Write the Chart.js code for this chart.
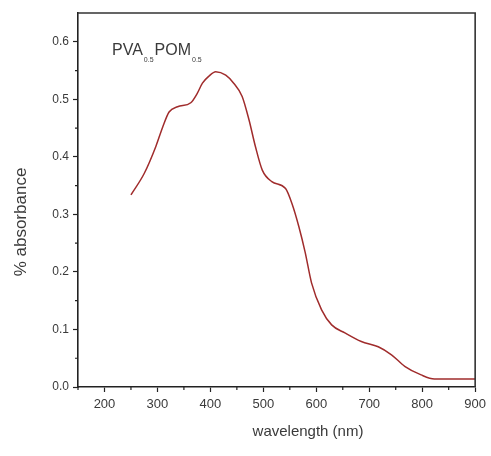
<!DOCTYPE html>
<html>
<head>
<meta charset="utf-8">
<script src="https://cdn.jsdelivr.net/npm/chart.js@4.4.1/dist/chart.umd.min.js"></script>
<style>
  html, body { margin: 0; padding: 0; background: #fff; }
  #wrap { width: 491px; height: 456px; position: relative; }
</style>
</head>
<body>
<div id="wrap"><canvas id="chart"></canvas></div>
<script>
// data
const wavelength = [250, 275, 297, 310, 322, 338, 363, 375, 385, 397, 410, 429, 444, 460, 473, 485, 498, 516, 542, 554, 567, 579, 591, 610, 629, 654, 685, 717, 742, 767, 798, 823, 860, 900];
const absorbance = [0.334, 0.371, 0.418, 0.452, 0.478, 0.487, 0.494, 0.510, 0.528, 0.540, 0.548, 0.542, 0.528, 0.505, 0.464, 0.418, 0.377, 0.357, 0.345, 0.319, 0.279, 0.234, 0.181, 0.134, 0.108, 0.094, 0.079, 0.070, 0.056, 0.036, 0.021, 0.014, 0.014, 0.014];

const xTicks = [200, 300, 400, 500, 600, 700, 800, 900];
const xMinorTicks = [150, 250, 350, 450, 550, 650, 750, 850];
const yTicks = [0.0, 0.1, 0.2, 0.3, 0.4, 0.5, 0.6];
const yMinorTicks = [0.05, 0.15, 0.25, 0.35, 0.45, 0.55];

const axisColor = '#222';
const textColor = '#3a3a3a';
const fontFamily = '"Liberation Sans", Arial, sans-serif';

// minor ticks, frame, titles and sample label
const extras = {
    id: 'extras',
    afterDraw(chart) {
        const ctx = chart.ctx;
        const area = chart.chartArea;
        const xs = chart.scales.x;
        const ys = chart.scales.y;
        ctx.save();
        ctx.strokeStyle = axisColor;
        ctx.lineWidth = 1.2;
        ctx.beginPath();
        xMinorTicks.forEach(v => {
            const px = xs.getPixelForValue(v);
            ctx.moveTo(px, area.bottom);
            ctx.lineTo(px, area.bottom + 3);
        });
        yMinorTicks.forEach(v => {
            const py = ys.getPixelForValue(v);
            ctx.moveTo(area.left, py);
            ctx.lineTo(area.left - 3, py);
        });
        ctx.stroke();

        // top and right frame
        ctx.lineWidth = 1.6;
        ctx.strokeStyle = '#333';
        ctx.beginPath();
        ctx.moveTo(area.left, area.top);
        ctx.lineTo(area.right, area.top);
        ctx.lineTo(area.right, area.bottom);
        ctx.stroke();

        // axis titles
        ctx.fillStyle = textColor;
        ctx.textAlign = 'center';
        ctx.textBaseline = 'middle';
        ctx.font = '15px ' + fontFamily;
        ctx.fillText('wavelength (nm)', 308, 432);

        ctx.save();
        ctx.translate(21, 222);
        ctx.rotate(-Math.PI / 2);
        ctx.font = '17px ' + fontFamily;
        ctx.fillText('% absorbance', 0, 0);
        ctx.restore();

        // sample label PVA0.5POM0.5
        ctx.textAlign = 'left';
        ctx.textBaseline = 'alphabetic';
        let x = 112;
        const base = 55;
        const parts = [['PVA', false], ['0.5', true], ['POM', false], ['0.5', true]];
        parts.forEach(p => {
            if (p[1]) {
                ctx.font = '7px ' + fontFamily;
                ctx.fillText(p[0], x + 1, base + 7);
                x += ctx.measureText(p[0]).width + 2;
            } else {
                ctx.font = '16px ' + fontFamily;
                ctx.fillText(p[0], x, base);
                x += ctx.measureText(p[0]).width;
            }
        });
        ctx.restore();
    }
};

const points = wavelength.map((w, i) => ({ x: w, y: absorbance[i] }));

new Chart(document.getElementById('chart'), {
    type: 'line',
    data: {
        datasets: [{
            data: points,
            borderColor: '#a02c2c',
            borderWidth: 1.5,
            pointRadius: 0,
            fill: false,
            cubicInterpolationMode: 'monotone'
        }]
    },
    options: {
        responsive: true,
        maintainAspectRatio: false,
        animation: false,
        layout: { padding: { left: 0, top: 13, right: 14, bottom: 0 } },
        plugins: {
            legend: { display: false },
            tooltip: { enabled: false }
        },
        scales: {
            x: {
                type: 'linear',
                min: 150,
                max: 900,
                afterBuildTicks: s => { s.ticks = xTicks.map(v => ({ value: v })); },
                afterFit: s => { s.height = 69; },
                grid: { drawOnChartArea: false, drawTicks: true, tickLength: 5, tickColor: axisColor, tickWidth: 1.2 },
                border: { display: true, color: axisColor, width: 1.6 },
                ticks: {
                    padding: 5,
                    color: textColor,
                    font: { size: 13, family: fontFamily },
                    maxRotation: 0,
                    callback: v => String(v)
                }
            },
            y: {
                min: 0,
                max: 0.65,
                afterBuildTicks: s => { s.ticks = yTicks.map(v => ({ value: v })); },
                afterFit: s => { s.width = 78; },
                grid: { drawOnChartArea: false, drawTicks: true, tickLength: 5, tickColor: axisColor, tickWidth: 1.2 },
                border: { display: true, color: axisColor, width: 1.6 },
                ticks: {
                    padding: 4,
                    color: textColor,
                    font: { size: 12, family: fontFamily },
                    callback: v => Number(v).toFixed(1)
                }
            }
        }
    },
    plugins: [extras]
});
</script>
</body>
</html>
